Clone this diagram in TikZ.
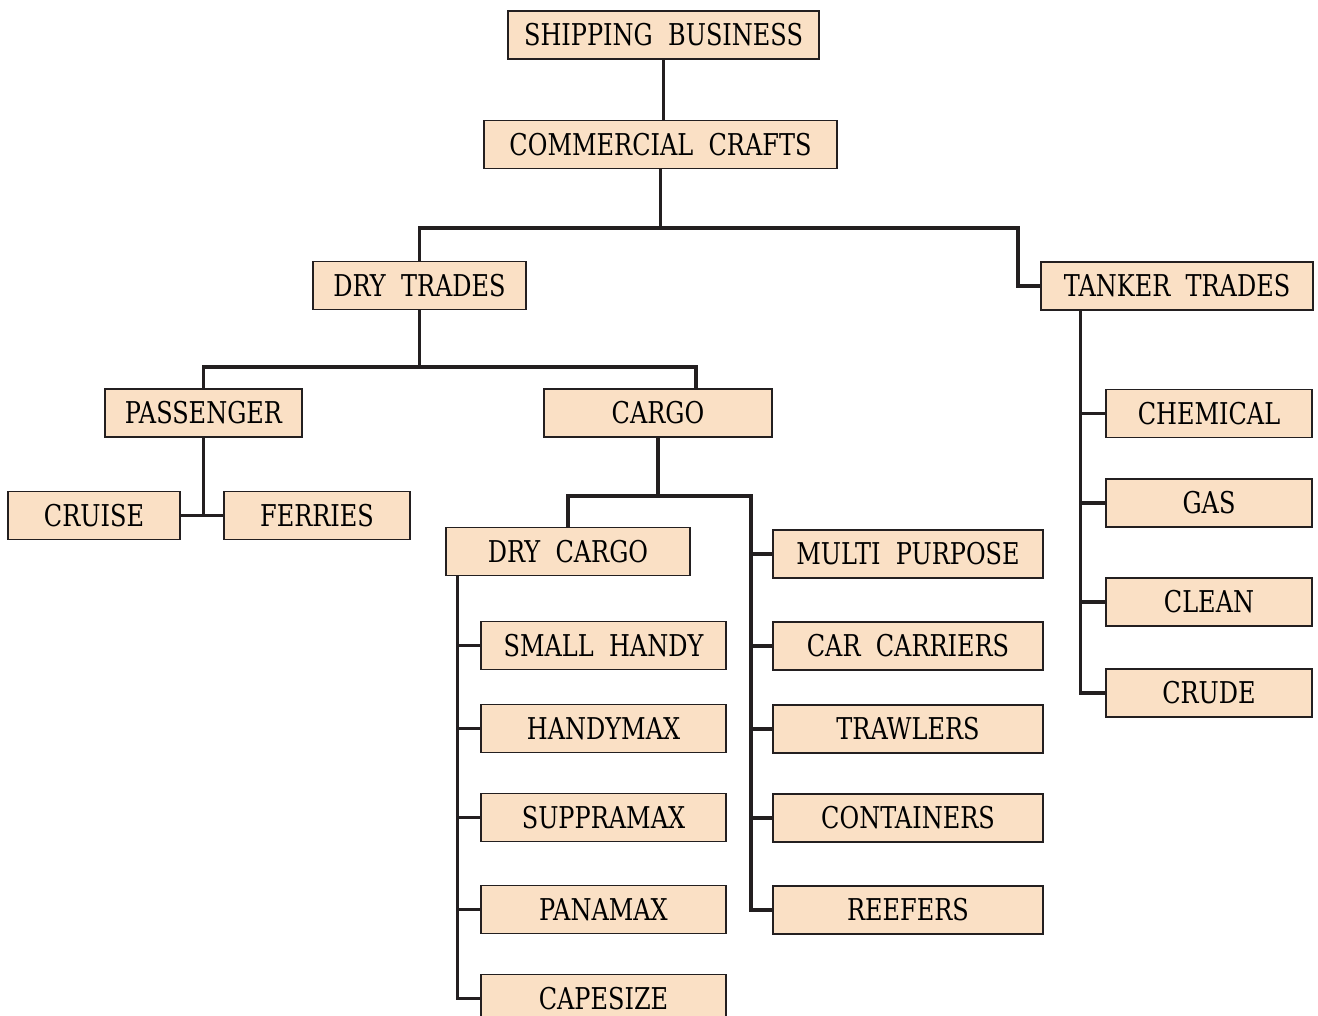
\documentclass[tikz,border=0pt]{standalone}
\usepackage{fontspec}
\setmainfont{DejaVu Serif}[FakeStretch=0.8, WordSpace=2]
\usetikzlibrary{positioning}
\definecolor{peach}{RGB}{250,224,197}
\definecolor{ink}{RGB}{35,31,32}

\begin{document}
\begin{tikzpicture}[
                x = 0.5pt, y = -0.5pt, % one unit per pixel of the sheet
                line width = 1.75pt, draw = ink, % line style
                box/.style = {draw = ink, fill = peach, line width = 0.7pt,
                inner sep = 0pt, minimum height = 24pt, minimum width = #1,
                font = \fontsize{15}{18}\selectfont},
                box/.default = 122pt
            ]

            \path[use as bounding box, clip] (0,0) rectangle (1318,1016);

            % upper levels
            \node[box=155.5pt] (ship) at (663.5,35) {SHIPPING BUSINESS};
            \node[box=176.5pt] (comm) at (660.5,144.5) {COMMERCIAL CRAFTS};
            \node[box=106.5pt] (dry) at (419.5,285.5) {DRY TRADES};
            \node[box=136pt] (tank) at (1177,286) {TANKER TRADES};
            \node[box=98.5pt] (pass) at (203.5,413) {PASSENGER};
            \node[box=114pt] (cargo) at (658,413) {CARGO};
            \node[box=86pt] (cruise) at (94,515.5) {CRUISE};
            \node[box=93pt] (ferr) at (317,515.5) {FERRIES};
            \node[box=122pt] (drc) at (568,551.5) {DRY CARGO};

            % dry cargo sizes
            \node[box=122.5pt] (small) at (603.5,645.5) {SMALL HANDY};
            \node[box=122.5pt] (hmax) at (603.5,728.5) {HANDYMAX};
            \node[box=122.5pt] (smax) at (603.5,817.5) {SUPPRAMAX};
            \node[box=122.5pt] (pmax) at (603.5,909.5) {PANAMAX};
            \node[box=122.5pt] (cape) at (603.5,998.5) {CAPESIZE};

            % other cargo
            \node[box=135pt] (multi) at (908,554) {MULTI PURPOSE};
            \node[box=135pt] (car) at (908,646) {CAR CARRIERS};
            \node[box=135pt] (trawl) at (908,729) {TRAWLERS};
            \node[box=135pt] (cont) at (908,818) {CONTAINERS};
            \node[box=135pt] (reef) at (908,910) {REEFERS};

            % tankers
            \node[box=103pt] (chem) at (1209,413.5) {CHEMICAL};
            \node[box=103pt] (gas) at (1209,503) {GAS};
            \node[box=103pt] (clean) at (1209,602) {CLEAN};
            \node[box=103pt] (crude) at (1209,693) {CRUDE};

            \coordinate (k1) at (1018,228);
            \coordinate (k2) at (696,367);
            \coordinate (k3) at (751,496);
            \coordinate (t1) at ([xshift=6pt]drc.south west);
            \coordinate (t2) at ([xshift=20pt]tank.south west);

            \draw (ship.south) -- (ship.south |- comm.north);
            \draw (comm.south) -- (comm.south |- k1);
            \draw (dry.north) |- (k1) |- (tank.west);
            \draw (dry.south) -- (dry.south |- k2);
            \draw (pass.north) |- (k2) -- (k2 |- cargo.north);
            \draw (pass.south) -- (pass.south |- cruise.east);
            \draw (cruise.east) -- (ferr.west);
            \draw (cargo.south) -- (cargo.south |- k3);
            \draw (drc.north) |- (k3) |- (reef.west);
            \draw (t1) |- (cape.west);
            \draw (t2) |- (crude.west);

            \foreach \n in {small, hmax, smax, pmax}
                \draw (t1 |- \n.west) -- (\n.west);
            \foreach \n in {multi, car, trawl, cont}
                \draw (k3 |- \n.west) -- (\n.west);
            \foreach \n in {chem, gas, clean}
                \draw (t2 |- \n.west) -- (\n.west);

        \end{tikzpicture}
\end{document}
